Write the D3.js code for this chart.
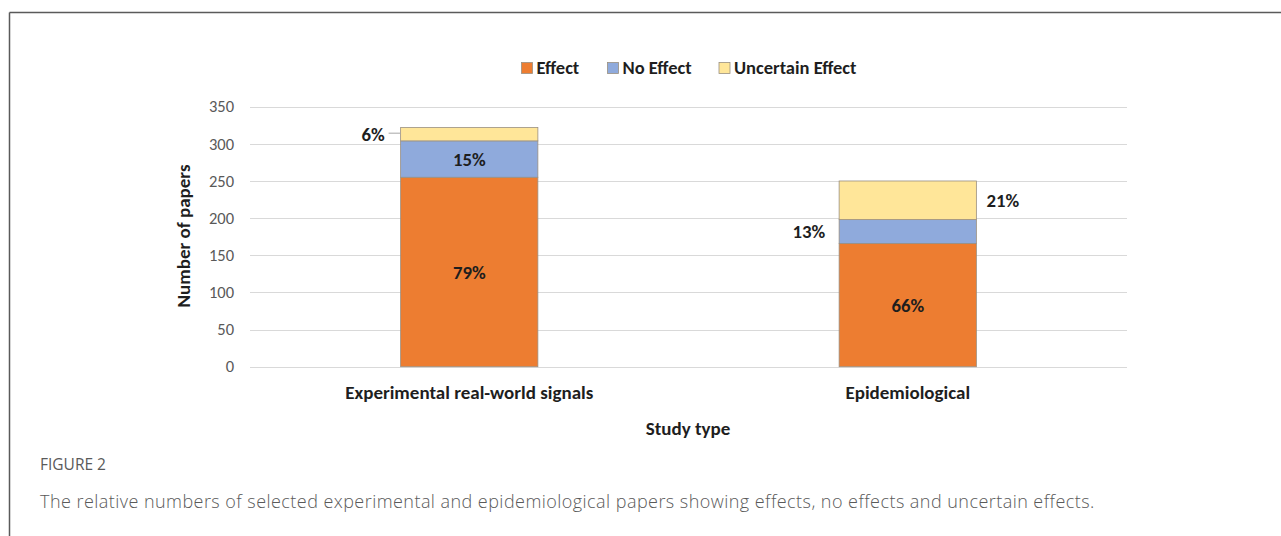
<!DOCTYPE html>
<html>
<head>
<meta charset="utf-8">
<script src="https://cdn.jsdelivr.net/npm/d3@7"></script>
<style>
  html, body { margin: 0; padding: 0; background: #fff; }
  svg { display: block; }
  .chart-text { font-family: Carlito, Lato, "Liberation Sans", sans-serif; }
  .caption { font-family: "Open Sans", "Noto Sans", sans-serif; }
</style>
</head>
<body>
<svg id="fig" width="1281" height="536"></svg>
<script>
// Study categories and paper counts per outcome
const categories = ["Experimental real-world signals", "Epidemiological"];
const seriesNames = ["Effect", "No Effect", "Uncertain Effect"];
const effectCounts = [255, 166];
const noEffectCounts = [49, 32];
const uncertainCounts = [18, 52];
const yTicks = [0, 50, 100, 150, 200, 250, 300, 350];
const colors = ["#ED7D31", "#8FAADC", "#FFE699"];

const svg = d3.select("#fig");

// Figure frame (top and left rules)
svg.append("line").attr("x1", 9.5).attr("x2", 1281).attr("y1", 12.5).attr("y2", 12.5)
  .attr("stroke", "#5a5a5a").attr("stroke-width", 1.5);
svg.append("line").attr("x1", 9.5).attr("x2", 9.5).attr("y1", 12.5).attr("y2", 536)
  .attr("stroke", "#5a5a5a").attr("stroke-width", 1.5);

const plot = { left: 250, right: 1127, top: 106.7, bottom: 366.7 };
const labelSize = 18.8;

const x = d3.scaleBand().domain(categories).range([plot.left, plot.right]).padding(0);
const y = d3.scaleLinear().domain([0, 350]).range([plot.bottom, plot.top]);
const barW = x.bandwidth() * 0.313;

const rows = categories.map((c, i) => ({
  category: c,
  "Effect": effectCounts[i],
  "No Effect": noEffectCounts[i],
  "Uncertain Effect": uncertainCounts[i]
}));
const stacked = d3.stack().keys(seriesNames)(rows);

// Gridlines
const g = svg.append("g").attr("class", "chart-text");
g.append("g").selectAll("line").data(yTicks).join("line")
  .attr("x1", plot.left).attr("x2", plot.right)
  .attr("y1", d => Math.round(y(d)) + 0.5).attr("y2", d => Math.round(y(d)) + 0.5)
  .attr("stroke", "#d9d9d9").attr("stroke-width", 1);

// Y axis tick labels
const yAxis = d3.axisLeft(y).tickValues(yTicks).tickSize(0).tickPadding(0);
const yg = g.append("g").attr("transform", `translate(${plot.left - 16},0)`).call(yAxis);
yg.select(".domain").remove();
yg.selectAll("text").attr("font-size", 16.5).attr("fill", "#595959")
  .attr("font-family", "Carlito, Lato, sans-serif");

// Stacked bars
g.append("g").selectAll("g").data(stacked).join("g")
  .attr("fill", (d, i) => colors[i])
  .selectAll("rect").data(d => d).join("rect")
  .attr("x", d => x(d.data.category) + (x.bandwidth() - barW) / 2)
  .attr("width", barW)
  .attr("y", d => y(d[1]))
  .attr("height", d => y(d[0]) - y(d[1]))
  .attr("stroke", "#9a8f80").attr("stroke-width", 0.8);

// Percentage labels
const totals = rows.map(r => seriesNames.reduce((s, k) => s + r[k], 0));
const pct = (si, ci) => Math.round(100 * stacked[si][ci].data[seriesNames[si]] / totals[ci]) + "%";
const mid = (si, ci) => (y(stacked[si][ci][0]) + y(stacked[si][ci][1])) / 2;
const barLeft = ci => x(categories[ci]) + (x.bandwidth() - barW) / 2;
const barRight = ci => barLeft(ci) + barW;
const cx = ci => x(categories[ci]) + x.bandwidth() / 2;

const labels = [
  { si: 0, ci: 0, x: cx(0), anchor: "middle" },
  { si: 1, ci: 0, x: cx(0), anchor: "middle" },
  { si: 2, ci: 0, x: barLeft(0) - 16, anchor: "end", leader: true },
  { si: 0, ci: 1, x: cx(1), anchor: "middle" },
  { si: 1, ci: 1, x: barLeft(1) - 14, anchor: "end" },
  { si: 2, ci: 1, x: barRight(1) + 10, anchor: "start" }
];
labels.forEach(l => {
  const yy = mid(l.si, l.ci);
  g.append("text").attr("x", l.x).attr("y", yy).attr("dy", "0.35em")
    .attr("text-anchor", l.anchor).attr("font-size", labelSize).attr("font-weight", 700)
    .attr("fill", "#1e1e1e").text(pct(l.si, l.ci));
  if (l.leader) {
    g.append("line").attr("x1", barLeft(l.ci) - 12).attr("x2", barLeft(l.ci))
      .attr("y1", yy - 1).attr("y2", yy - 1).attr("stroke", "#a6a6a6").attr("stroke-width", 1);
  }
});

// Category axis labels
const xAxis = d3.axisBottom(x).tickSize(0).tickPadding(0);
const xg = g.append("g").attr("transform", `translate(0,${plot.bottom + 19})`).call(xAxis);
xg.select(".domain").remove();
xg.selectAll("text").attr("font-size", 19).attr("font-weight", 700).attr("fill", "#1e1e1e")
  .attr("font-family", "Carlito, Lato, sans-serif");

// Axis titles
g.append("text").attr("x", 688).attr("y", 428).attr("dy", "0.35em").attr("text-anchor", "middle")
  .attr("font-size", 19).attr("font-weight", 700).attr("fill", "#1e1e1e").text("Study type");
g.append("text").attr("transform", "translate(183,236) rotate(-90)").attr("dy", "0.35em")
  .attr("text-anchor", "middle").attr("font-size", 19).attr("font-weight", 700).attr("fill", "#1e1e1e")
  .text("Number of papers");

// Legend
const legendX = [521.5, 607.5, 719];
const leg = g.append("g");
seriesNames.forEach((n, i) => {
  leg.append("rect").attr("x", legendX[i]).attr("y", 62.5).attr("width", 11).attr("height", 11)
    .attr("fill", colors[i]).attr("stroke", "#9a8f80").attr("stroke-width", 0.8);
  leg.append("text").attr("x", legendX[i] + 15).attr("y", 68).attr("dy", "0.35em")
    .attr("font-size", 18.5).attr("font-weight", 700).attr("fill", "#1e1e1e").text(n);
});

// Caption
const cap = svg.append("g").attr("class", "caption");
cap.append("text").attr("x", 40).attr("y", 470).attr("font-size", 15.5).attr("fill", "#5a5a5a")
  .text("FIGURE 2");
cap.append("text").attr("x", 40).attr("y", 508).attr("font-size", 18).attr("font-weight", 300)
  .attr("letter-spacing", 0.45).attr("fill", "#5a5a5a")
  .text("The relative numbers of selected experimental and epidemiological papers showing effects, no effects and uncertain effects.");
</script>
</body>
</html>
